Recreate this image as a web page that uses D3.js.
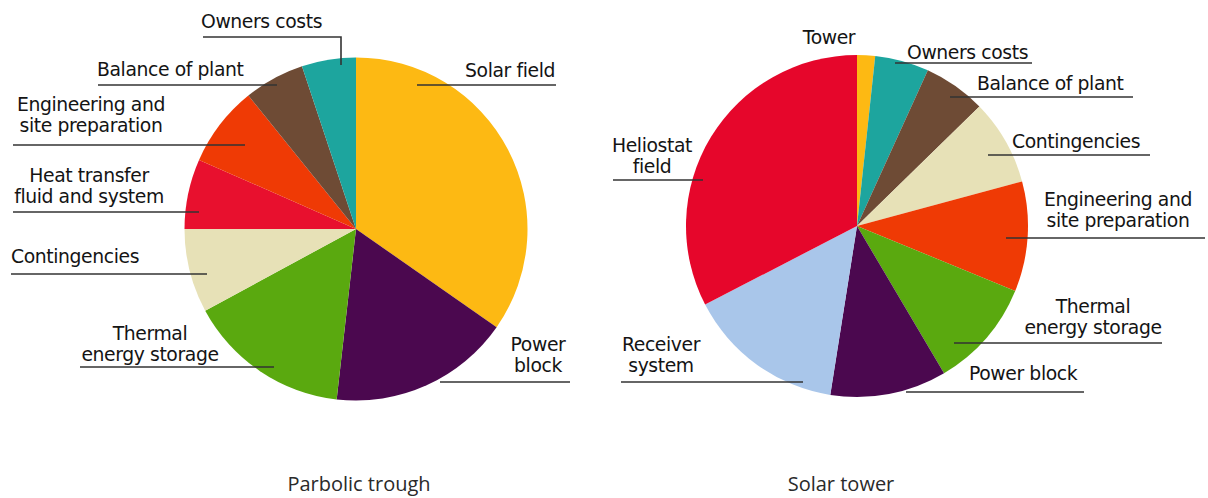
<!DOCTYPE html>
<html>
<head>
<meta charset="utf-8">
<script src="https://cdn.jsdelivr.net/npm/d3@7"></script>
<style>
  body { margin: 0; background: #fff; }
  .lbl { font-family: "DejaVu Sans", sans-serif; font-size: 18.8px; fill: #141414; letter-spacing: -0.4px; }
  .ttl { font-family: "Open Sans", sans-serif; font-size: 20px; fill: #2a2a2a; }
  .lead { stroke: #333; stroke-width: 1.6; fill: none; }
</style>
</head>
<body>
<div class="chart"></div>
<script>
// categories + shares (%), clockwise from 12 o'clock
var troughCategories = ['Solar field', 'Power block', 'Thermal energy storage', 'Contingencies',
  'Heat transfer fluid and system', 'Engineering and site preparation', 'Balance of plant', 'Owners costs'];
var troughValues = [34.7, 17.1, 15.3, 7.9, 6.6, 7.6, 5.7, 5.1];

var towerCategories = ['Tower', 'Owners costs', 'Balance of plant', 'Contingencies',
  'Engineering and site preparation', 'Thermal energy storage', 'Power block', 'Receiver system', 'Heliostat field'];
var towerValues = [1.7, 5.1, 5.9, 8.1, 10.4, 10.3, 11.0, 14.9, 32.6];

var titles = ['Parbolic trough', 'Solar tower'];

var colourKeys = ['Solar field', 'Tower', 'Power block', 'Thermal energy storage', 'Contingencies',
  'Heat transfer fluid and system', 'Heliostat field', 'Engineering and site preparation',
  'Balance of plant', 'Owners costs', 'Receiver system'];
var colourValues = ['#fdb913', '#fdb913', '#4b084f', '#5aa90f', '#e7e1b7',
  '#e8102e', '#e6062b', '#ef3a05', '#6e4b35', '#1da59e', '#a9c6ea'];

var color = d3.scaleOrdinal().domain(colourKeys).range(colourValues);

var width = 1208, height = 498;

var svg = d3.select('.chart').append('svg')
  .attr('width', width)
  .attr('height', height);

// label placement (text pos, how many words on line 1, leader line)
var troughLabels = [
  { tx: 555, ty: 77, anchor: 'end', brk: 0, lx1: 417, lx2: 556, ly: 85 },
  { tx: 538, ty: 351, anchor: 'middle', brk: 1, lx1: 440, lx2: 570, ly: 382 },
  { tx: 150, ty: 340, anchor: 'middle', brk: 1, lx1: 80, lx2: 274, ly: 367 },
  { tx: 11, ty: 263, anchor: 'start', brk: 0, lx1: 11, lx2: 207, ly: 274 },
  { tx: 89, ty: 182, anchor: 'middle', brk: 2, lx1: 13, lx2: 199, ly: 212 },
  { tx: 91, ty: 111, anchor: 'middle', brk: 2, lx1: 13, lx2: 245, ly: 145 },
  { tx: 97, ty: 76, anchor: 'start', brk: 0, lx1: 98, lx2: 277, ly: 85 },
  { tx: 201, ty: 28, anchor: 'start', brk: 0, lx1: 203, lx2: 341, ly: 37, vy: 65 }
];

var towerLabels = [
  { tx: 829, ty: 44, anchor: 'middle', brk: 0 },
  { tx: 907, ty: 59, anchor: 'start', brk: 0, lx1: 895, lx2: 1032, ly: 63 },
  { tx: 977, ty: 90, anchor: 'start', brk: 0, lx1: 950, lx2: 1133, ly: 97 },
  { tx: 1012, ty: 148, anchor: 'start', brk: 0, lx1: 988, lx2: 1150, ly: 155 },
  { tx: 1118, ty: 206, anchor: 'middle', brk: 2, lx1: 1006, lx2: 1205, ly: 238 },
  { tx: 1093, ty: 313, anchor: 'middle', brk: 1, lx1: 954, lx2: 1162, ly: 343 },
  { tx: 969, ty: 380, anchor: 'start', brk: 0, lx1: 906, lx2: 1084, ly: 392 },
  { tx: 661, ty: 351, anchor: 'middle', brk: 1, lx1: 621, lx2: 803, ly: 382 },
  { tx: 652, ty: 152, anchor: 'middle', brk: 1, lx1: 613, lx2: 703, ly: 180 }
];

function drawPie(cats, vals, labels, cx, cy, r, title, titleX) {
  var g = svg.append('g').attr('transform', 'translate(' + cx + ',' + cy + ')');

  var pie = d3.pie().sort(null).value(function(d) { return d; });
  var arc = d3.arc().innerRadius(0).outerRadius(r);

  g.selectAll('path.slice')
    .data(pie(vals))
    .enter().append('path')
    .attr('class', 'slice')
    .attr('d', arc)
    .style('fill', function(d, i) { return color(cats[i]); });

  // leader lines + text
  cats.forEach(function(name, i) {
    var L = labels[i];
    if (L.lx1 !== undefined) {
      var pts = [[L.lx1, L.ly], [L.lx2, L.ly]];
      if (L.vy !== undefined) pts.push([L.lx2, L.vy]);
      svg.append('path').attr('class', 'lead').attr('d', d3.line()(pts));
    }
    var words = name.split(' ');
    var lines = L.brk ? [words.slice(0, L.brk).join(' '), words.slice(L.brk).join(' ')] : [name];
    var t = svg.append('text').attr('class', 'lbl')
      .attr('x', L.tx).attr('y', L.ty)
      .style('text-anchor', L.anchor);
    lines.forEach(function(s, k) {
      t.append('tspan').attr('x', L.tx).attr('dy', k ? 21 : 0).text(s);
    });
  });

  svg.append('text').attr('class', 'ttl')
    .attr('x', titleX).attr('y', 491)
    .style('text-anchor', 'middle')
    .text(title);
}

drawPie(troughCategories, troughValues, troughLabels, 356, 229, 171.5, titles[0], 359);
drawPie(towerCategories, towerValues, towerLabels, 857, 226, 171, titles[1], 841);
</script>
</body>
</html>
